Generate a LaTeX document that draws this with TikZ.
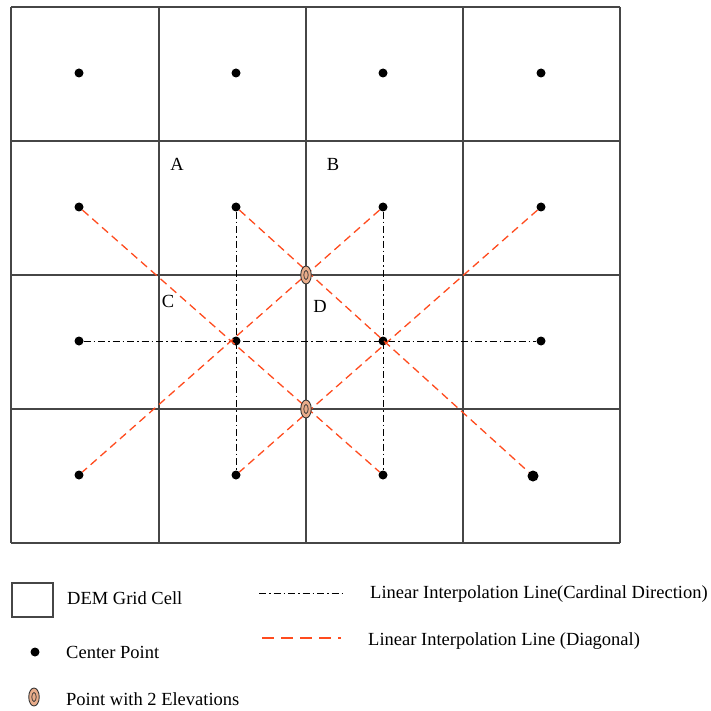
\documentclass[tikz,border=0pt]{standalone}
\usepackage{fontspec}
\setmainfont{Liberation Serif}
\usetikzlibrary{positioning,shapes.geometric}
\definecolor{gridgray}{RGB}{70,70,70}
\definecolor{diagred}{RGB}{255,75,30}
\definecolor{elevtan}{RGB}{232,172,138}

\tikzset{
  cellline/.style={gridgray,line width=1.3pt},
  centerpt/.style={circle,fill=black,inner sep=0pt,minimum size=9pt},
  twoelev/.style={ellipse,draw=black!80,fill=elevtan,line width=0.9pt,inner sep=0pt,
    minimum width=10.5pt,minimum height=18pt},
  cardinal/.style={black,line width=1pt,dash pattern=on 7pt off 3pt on 1.5pt off 3pt},
  diagline/.style={diagred,line width=1.3pt,dash pattern=on 8pt off 5pt},
  lbl/.style={font=\fontsize{18.5}{21}\selectfont,inner sep=0pt},
}

\begin{document}
\begin{tikzpicture}[x=1pt,y=-1pt]
  \useasboundingbox (0,0) rectangle (711,711);
  % DEM grid
  \foreach \gx in {11,159,306,463,620}
    \draw[cellline] (\gx,7) -- (\gx,543);
  \foreach \gy in {7,141,275,409,543}
    \draw[cellline] (11,\gy) -- (620,\gy);
  % center points
  \foreach \cx [count=\i] in {79,236,383,541}{
    \foreach \cy [count=\j] in {73,207,341,475}{
      \ifnum\i\j=44
        \node[centerpt,minimum size=11pt] (p\i\j) at (533,476) {};
      \else
        \node[centerpt] (p\i\j) at (\cx,\cy) {};
      \fi
    }
  }
  % cardinal interpolation
  \draw[cardinal] (p13) -- (p43);
  \draw[cardinal] (p22) -- (p24);
  \draw[cardinal] (p32) -- (p34);
  % diagonal interpolation
  \draw[diagline] (p12) -- (p34);
  \draw[diagline] (p22) -- (p44);
  \draw[diagline] (p42) -- (p24);
  \draw[diagline] (p32) -- (p14);
  % points with two elevations
  \node[twoelev] (e1) at (306,275) {};
  \node[twoelev] (e2) at (306,409) {};
  \foreach \e in {e1,e2}
    \draw[black!80,line width=0.7pt] (\e) ellipse (2.2pt and 4.5pt);
  % cell labels
  \node[lbl] (la) at (177,164) {A};
  \node[lbl] (lb) at (333,164) {B};
  \node[lbl] (lc) at (168,301) {C};
  \node[lbl] (ld) at (320,306) {D};
  % legend
  \node[draw=gridgray,line width=1.2pt,minimum width=41pt,minimum height=34pt,inner sep=0pt] (kcell) at (32.5,600) {};
  \node[lbl,anchor=base west] (tcell) at (67,604) {DEM Grid Cell};
  \node[centerpt] (kpt) at (35,652) {};
  \node[lbl,anchor=base west] (tpt) at (66,658) {Center Point};
  \node[twoelev] (kelev) at (34,697) {};
  \draw[black!80,line width=0.7pt] (kelev) ellipse (2.2pt and 4.5pt);
  \node[lbl,anchor=base west] (telev) at (66,705) {Point with 2 Elevations};
  \coordinate (kca) at (259,593);
  \coordinate (kcb) at (346,593);
  \draw[cardinal] (kca) -- (kcb);
  \node[lbl,anchor=base west] (tcard) at (370,598) {Linear Interpolation Line(Cardinal Direction)};
  \coordinate (kda) at (262,638);
  \coordinate (kdb) at (341,638);
  \draw[diagline,line width=1.8pt,dash pattern=on 12pt off 7pt] (kda) -- (kdb);
  \node[lbl,anchor=base west] (tdiag) at (368,645) {Linear Interpolation Line (Diagonal)};
\end{tikzpicture}
\end{document}
